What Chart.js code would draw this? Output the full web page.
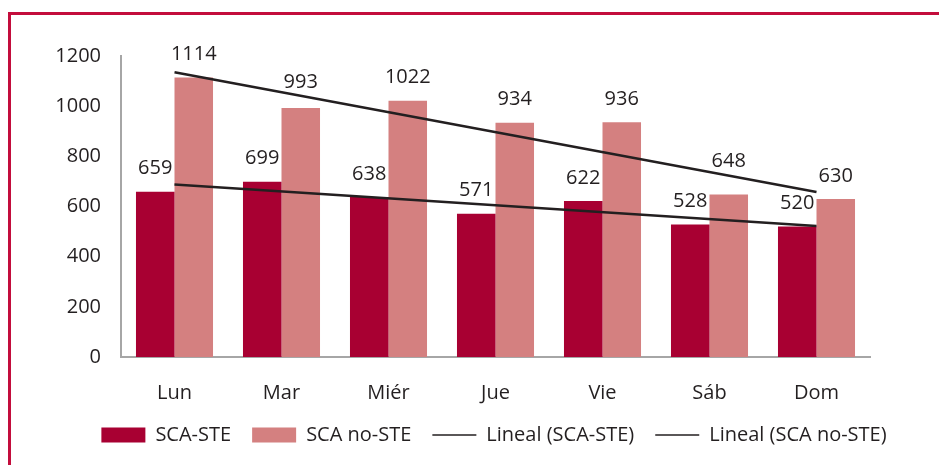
<!DOCTYPE html>
<html>
<head>
<meta charset="utf-8">
<script src="https://cdn.jsdelivr.net/npm/chart.js@4"></script>
<style>
  html, body { margin: 0; padding: 0; background: #fff; overflow: hidden; }
  #frame { position: absolute; left: 8px; top: 12px; width: 1000px; height: 520px; border: 3px solid #c30d3c; }
  #wrap { position: absolute; left: 0; top: 0; width: 939px; height: 465px; }
</style>
</head>
<body>
<div id="frame"></div>
<div id="wrap"><canvas id="chart" width="939" height="465"></canvas></div>
<script>
const days = ["Lun", "Mar", "Miér", "Jue", "Vie", "Sáb", "Dom"];
const scaSte = [659, 699, 638, 571, 622, 528, 520];
const scaNoSte = [1114, 993, 1022, 934, 936, 648, 630];
// trend line ends (Lun, Dom)
const trendSte = [688, null, null, null, null, null, 522];
const trendNoSte = [1135, null, null, null, null, null, 658];
const yTicks = [0, 200, 400, 600, 800, 1000, 1200];

const textColor = "#231f20";
const fontFamily = "'Open Sans', sans-serif";

// value labels above the bars; a couple were nudged up in the original to clear the trend line
const extraLift = { "1-1": 3, "1-5": 10 };
const barLabels = {
  id: "barLabels",
  afterDatasetsDraw(chart) {
    const ctx = chart.ctx;
    ctx.save();
    ctx.font = "20px " + fontFamily;
    ctx.fillStyle = textColor;
    ctx.textAlign = "center";
    ctx.textBaseline = "middle";
    [0, 1].forEach(di => {
      const meta = chart.getDatasetMeta(di);
      meta.data.forEach((bar, i) => {
        const lift = 23 + (extraLift[di + "-" + i] || 0);
        ctx.fillText(chart.data.datasets[di].data[i], bar.x, bar.y - lift);
      });
    });
    ctx.restore();
  }
};

new Chart(document.getElementById("chart"), {
  type: "bar",
  data: {
    labels: days,
    datasets: [
      { label: "SCA-STE", data: scaSte, backgroundColor: "#a80032", categoryPercentage: 0.72, barPercentage: 1 },
      { label: "SCA no-STE", data: scaNoSte, backgroundColor: "#d48080", categoryPercentage: 0.72, barPercentage: 1 },
      { type: "line", label: "Lineal (SCA-STE)", data: trendSte, spanGaps: true, borderColor: textColor, borderWidth: 2.5, pointRadius: 0, order: -1 },
      { type: "line", label: "Lineal (SCA no-STE)", data: trendNoSte, spanGaps: true, borderColor: textColor, borderWidth: 2.5, pointRadius: 0, order: -1 }
    ]
  },
  options: {
    responsive: false,
    animation: false,
    layout: { padding: { left: 49, right: 0, top: 56, bottom: 10 } },
    scales: {
      x: {
        grid: { display: false, drawTicks: false },
        border: { display: true, color: "#a6a6a6", width: 2 },
        ticks: { color: textColor, font: { family: fontFamily, size: 20 }, padding: 24 },
        afterFit(scale) { scale.height = 47; }
      },
      y: {
        min: 0,
        max: 1200,
        afterBuildTicks(scale) { scale.ticks = yTicks.map(v => ({ value: v })); },
        grid: { display: false, drawTicks: false },
        border: { display: true, color: "#a6a6a6", width: 2 },
        ticks: { color: textColor, font: { family: fontFamily, size: 20 }, padding: 20, callback: v => String(v) },
        afterFit(scale) { scale.width = 72; }
      },
      y2: {
        position: "right",
        display: true,
        grid: { display: false },
        border: { display: false },
        ticks: { display: false },
        afterFit(scale) { scale.width = 69; }
      }
    },
    plugins: {
      tooltip: { enabled: false },
      legend: {
        position: "bottom",
        labels: {
          color: textColor,
          font: { family: fontFamily, size: 20 },
          usePointStyle: true,
          pointStyleWidth: 44,
          boxHeight: 15,
          padding: 21,
          generateLabels(chart) {
            return chart.data.datasets.map((ds, i) => ({
              text: ds.label,
              datasetIndex: i,
              fillStyle: ds.type === "line" ? textColor : ds.backgroundColor,
              strokeStyle: ds.type === "line" ? textColor : ds.backgroundColor,
              lineWidth: ds.type === "line" ? 1.5 : 0,
              pointStyle: ds.type === "line" ? "line" : "rect",
              fontColor: textColor,
              hidden: false
            }));
          }
        }
      }
    }
  },
  plugins: [barLabels]
});
</script>
</body>
</html>
